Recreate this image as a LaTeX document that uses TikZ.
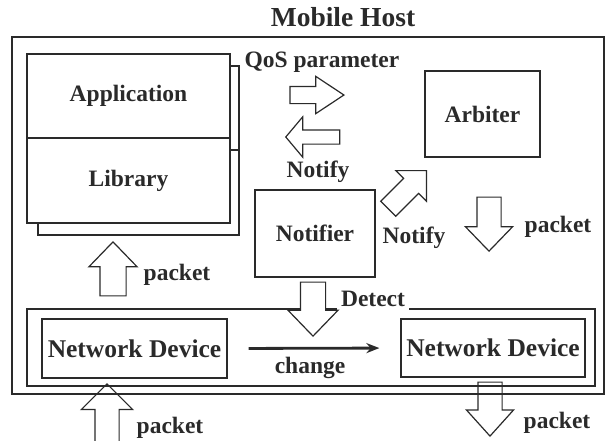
\documentclass[tikz,border=0pt]{standalone}
\usepackage{fontspec}
\setmainfont{Liberation Serif}
\usetikzlibrary{arrows.meta,shapes.arrows}

\definecolor{ink}{HTML}{2A2A2A}

\tikzset{
  bigfont/.style={font=\bfseries\fontsize{23.5}{26}\selectfont},
  devfont/.style={font=\bfseries\fontsize{25.5}{28}\selectfont},
  box/.style={draw, fill=white, inner sep=0pt, bigfont},
  lbl/.style={inner sep=1pt, bigfont},
  blockarrow/.style={single arrow, draw, fill=white, inner xsep=0pt,
    minimum height=54pt, single arrow tip angle=88},
}

\begin{document}
\begin{tikzpicture}[x=1pt, y=-1pt, line width=1.2pt, color=ink]
  \useasboundingbox (0,0) rectangle (612,440);

  % frame of the mobile host
  \node[lbl, font=\bfseries\fontsize{27.5}{30}\selectfont] (host) at (343,17) {Mobile Host};
  \draw (12,37) rectangle (604,394);
  % frame round the two network devices
  \draw (27,309) rectangle (595,386);

  % application and library, with a second layer behind them
  \node[box, minimum width=201pt, minimum height=84pt] (appback) at (138.5,108) {};
  \node[box, minimum width=201pt, minimum height=85pt] (libback) at (138.5,192.5) {};
  \node[box, minimum width=203pt, minimum height=84pt] (app) at (128.5,96) {Application};
  \node[box, minimum width=203pt, minimum height=85pt] (lib) at (128.5,180.5) {Library};

  \node[box, minimum width=115pt, minimum height=86pt] (arb) at (482.5,114) {Arbiter};
  \node[box, minimum width=120pt, minimum height=87pt] (ntf) at (315,233.5) {Notifier};

  \node[box, devfont, minimum width=185pt, minimum height=59pt] (devl) at (134.5,348.5) {Network Device};
  \node[box, devfont, minimum width=184pt, minimum height=58pt] (devr) at (493,348) {Network Device};

  % the device changes
  \draw[line width=2.8pt, -{Stealth[length=13pt, width=10pt]},
    shorten <=21pt, shorten >=21pt] (devl.east) -- (devr.west);
  \node[lbl] (chg) at (310,368) {change};

  % QoS parameter to the arbiter, notify back
  \node[blockarrow, anchor=tip, inner ysep=8pt, single arrow head extend=10pt,
    single arrow tip angle=67] (qos) at (345,95) {};
  \node[lbl] (qoslbl) at (322,62) {QoS parameter};
  \node[blockarrow, rotate=180, anchor=tip, inner ysep=6.5pt, single arrow head extend=13pt,
    single arrow tip angle=100] (back) at (285,137) {};
  \node[lbl] (backlbl) at (318,172) {Notify};

  % notifier to arbiter
  \node[blockarrow, rotate=45, anchor=tip, inner ysep=10pt, single arrow head extend=11pt,
    single arrow tip angle=90] (up) at (427,170) {};
  \node[lbl] (uplbl) at (414,238) {Notify};

  % packets
  \node[blockarrow, rotate=-90, anchor=tip, inner ysep=11.5pt, single arrow head extend=11.5pt] (pout) at (489,252) {};
  \node[lbl] (poutlbl) at (558,227) {packet};
  \node[blockarrow, rotate=90, anchor=tip, inner ysep=12.5pt, single arrow head extend=11pt] (pin) at (113,241) {};
  \node[lbl] (pinlbl) at (177,275) {packet};
  \node[blockarrow, fill=none, rotate=90, anchor=tip, minimum height=60pt, inner ysep=11.5pt,
    single arrow head extend=13.5pt, single arrow tip angle=90] (rx) at (107,383) {};
  \node[lbl] (rxlbl) at (170,428) {packet};
  \node[blockarrow, fill=none, rotate=-90, anchor=tip, inner ysep=11.5pt,
    single arrow head extend=11.5pt, single arrow tip angle=84] (tx) at (490,437) {};
  \node[lbl] (txlbl) at (557,423) {packet};

  % notifier detects the change
  \node[lbl, fill=white, inner sep=4pt] (detlbl) at (373,299) {Detect};
  \node[blockarrow, rotate=-90, anchor=tip, inner ysep=12pt, single arrow head extend=12.5pt] (det) at (313,337) {};
\end{tikzpicture}
\end{document}
